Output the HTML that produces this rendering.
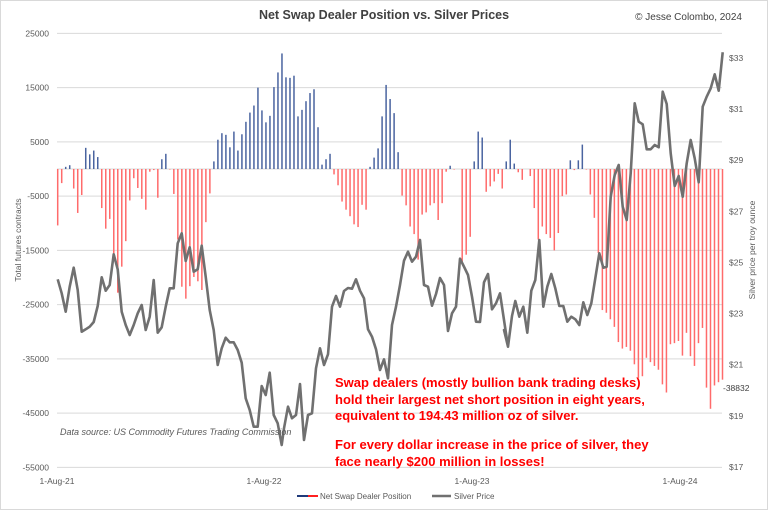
<!DOCTYPE html>
<html><head><meta charset="utf-8"><style>
body{margin:0;background:#fff}
svg text{font-family:"Liberation Sans",sans-serif}
</style></head><body>
<svg id="s" width="768" height="510" xmlns="http://www.w3.org/2000/svg">
<rect x="0.5" y="0.5" width="767" height="509" fill="#fff" stroke="#d9d9d9"/>
<g id="grid" stroke="#d9d9d9" stroke-width="1"></g>
<g id="bars"></g>
<polyline id="line" fill="none" stroke="#707070" stroke-width="2.6" stroke-linejoin="round"/>
<text x="384" y="19" text-anchor="middle" font-size="12.5" font-weight="bold" fill="#404040">Net Swap Dealer Position vs. Silver Prices</text>
<text x="742" y="20" text-anchor="end" font-size="10" fill="#404040">© Jesse Colombo, 2024</text>
<g font-size="8.5" fill="#595959" text-anchor="end" id="ly"></g>
<g font-size="8.5" fill="#595959" id="ry"></g>
<text x="723" y="391" font-size="8.5" fill="#404040">-38832</text>
<g font-size="8.5" fill="#595959" text-anchor="middle">
<text x="57" y="484">1-Aug-21</text><text x="264" y="484">1-Aug-22</text><text x="472" y="484">1-Aug-23</text><text x="680" y="484">1-Aug-24</text></g>
<text transform="translate(21,240) rotate(-90)" text-anchor="middle" font-size="8.5" fill="#595959">Total futures contracts</text>
<text transform="translate(755,250) rotate(-90)" text-anchor="middle" font-size="8.5" fill="#595959">Silver price per troy ounce</text>
<line x1="297" y1="496" x2="308" y2="496" stroke="#1f3a7a" stroke-width="2"/>
<line x1="308" y1="496" x2="318" y2="496" stroke="#ff2020" stroke-width="2"/>
<text x="320" y="499" font-size="8" fill="#595959">Net Swap Dealer Position</text>
<line x1="432" y1="496" x2="451" y2="496" stroke="#707070" stroke-width="2.5"/>
<text x="454" y="499" font-size="8" fill="#595959">Silver Price</text>
<text x="60" y="435" font-size="9" font-style="italic" fill="#595959">Data source: US Commodity Futures Trading Commission</text>
<g font-size="13" font-weight="bold" fill="#ff0000">
<text x="335" y="387">Swap dealers (mostly bullion bank trading desks)</text>
<text x="335" y="404">hold their largest net short position in eight years,</text>
<text x="335" y="420">equivalent to 194.43 million oz of silver.</text>
<text x="335" y="449">For every dollar increase in the price of silver, they</text>
<text x="335" y="466">face nearly $200 million in losses!</text>
</g>
</svg>
<script>
var NS="http://www.w3.org/2000/svg";
function el(t,a,p){var e=document.createElementNS(NS,t);for(var k in a)e.setAttribute(k,a[k]);if(p)p.appendChild(e);return e;}
var Y0=169,K=5.425;
var g=document.getElementById('grid'),ly=document.getElementById('ly'),ry=document.getElementById('ry');
for(var v=25000;v>=-55000;v-=10000){var y=Y0-v/1000*K;el('line',{x1:57,x2:722,y1:y,y2:y},g);var t=el('text',{x:49,y:y+3},ly);t.textContent=v;}
el('line',{x1:57,x2:722,y1:Y0,y2:Y0},g);
for(var p=33;p>=17;p-=2){var y=58+(33-p)*25.56;var t=el('text',{x:729,y:y+3},ry);t.textContent='$'+p;}
var vals=[-10.4,-2.6,0.4,0.7,-3.6,-8.1,-4.8,3.9,2.7,3.4,2.2,-7.2,-11,-9.2,-16,-22.8,-18,-13.3,-5.8,-1.7,-3.5,-5.5,-7.5,-0.5,-0.2,-5.3,1.8,2.8,-0.1,-4.6,-13,-21.7,-23.9,-21.6,-19.9,-20.7,-22.3,-9.8,-4.5,1.4,5.4,6.6,6.3,4,6.9,3.4,6.4,8.7,10.4,11.7,15,10.8,8.6,9.8,15.1,17.8,21.3,
16.9,16.8,17.2,9.7,10.9,12.5,14,14.7,7.7,0.8,1.8,2.8,-1,-3,-6,-7.5,-8.7,-10.2,-10.7,-6.6,-7.5,0.4,2.1,3.8,9.7,15.5,12.9,10.3,3.1,-4.9,-6.7,-10.6,-12,-16.7,-8.4,-8,-6.7,-6.3,-9.4,-6.3,-0.5,0.6,-0.1,0,-17.2,-15.8,-12.5,1.4,6.9,5.8,-4.2,-3.2,-2.3,-0.9,-3.6,
1.4,5.4,1,-0.6,-2,0,-1.3,-7.2,-13,-10.6,-12,-12.7,-15,-11.8,-5,-4.7,1.6,-0.2,1.6,4.5,-0.1,-4.7,-9,-15.5,-26,-26.5,-27.7,-29.1,-31.9,-33.1,-32.8,-33.5,-36,-38.5,-38.2,-34.8,-35.6,-36.3,-37,-39.7,-41.2,-32.3,-32.1,-31.7,-34.4,-30.2,-34.5,-36.3,-32.1,-29.3,-40.3,-44.2,-39.9,-39.3,-38.832];
var b=document.getElementById('bars'),n=vals.length,x0=57.7,x1=722.5;
for(var i=0;i<n;i++){var v=vals[i],x=x0+i*(x1-x0)/(n-1),y=Y0-v*K;
el('rect',{x:x-0.75,y:Math.min(y,Y0),width:1.5,height:Math.abs(y-Y0),fill:v>=0?'#4a64a0':'#ff6b6b'},b);}
var L=[[55,[8,718,20,760,32,815,44,740,56,683,68,750,80,875,92,868,104,860,116,846,128,798,140,712,152,752,164,735,176,643,188,688,200,815,212,855,224,885,236,855,248,820,260,795,272,870,284,830,296,720,308,878,320,862,332,800,344,745,356,745,368,610,380,580,392,663,404,622,416,695,428,688,440,617,452,710,464,810,476,870,488,975,500,925,512,893,524,907,536,907,548,930,560,968,572,1075,584,1110,596,1160,608,1160,620,1038,632,1065,644,998,656,1125,668,1150,680,1215]],
[280,[12,1165,24,1100,36,1135,48,1125,60,1032,72,1200,84,1125,96,1120,108,985,120,925,132,975,144,943,156,800,168,768,180,800,192,753,204,744,216,746,228,718,240,752,252,775,264,868,276,890,288,928,300,990,312,958,324,1015,336,855,348,800,360,735,372,662,384,635,396,665,408,650,420,600,432,735,444,740,456,797,468,762,480,714,492,735,504,873,516,820,528,800,540,656,552,680,564,705,576,770,588,845,600,846,612,727,624,702,636,808,648,790,660,760,672,840,684,920]],
[500,[12,870,24,920,36,828,46,783,58,830,70,800,82,878,94,752,106,720,118,600,130,800,142,740,154,702,166,745,178,798,190,798,202,845,214,830,226,838,238,855,250,787,262,825,274,790,286,715,298,640,310,683,320,680,332,470,344,405,356,375,368,500,380,540,392,400,404,190,416,245,428,253,440,328,452,328,464,315,476,322,488,155,500,192,512,340,524,438,536,408,548,470,560,370,572,300,584,355,596,427,608,200,620,170,632,145,644,103,656,152,668,37]]];
var pts=[];L.forEach(function(s){var o=s[0],a=s[1];for(var i=0;i<a.length;i+=2)pts.push((a[i]/3+o).toFixed(1)+','+(a[i+1]/3+40).toFixed(1));});
document.getElementById('line').setAttribute('points',pts.join(' '));
</script>
</body></html>
